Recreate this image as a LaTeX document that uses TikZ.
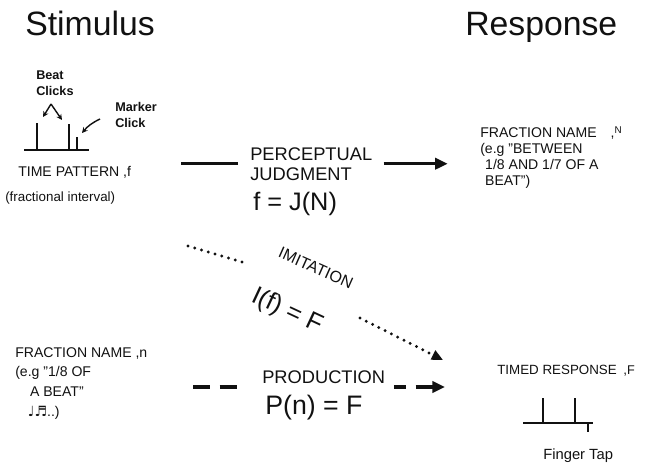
\documentclass[tikz,border=0pt]{standalone}
\usepackage{fontspec}
\setmainfont{Liberation Sans}
\newfontfamily\notefont{DejaVu Sans}
\usepackage{xcolor}
\definecolor{Ink}{HTML}{111111}
\usetikzlibrary{arrows.meta, positioning}
\tikzset{
  base text/.style={inner sep=0pt, align=left, text=Ink},
  title text/.style={base text, font=\fontsize{24}{28}\selectfont},
  caps text/.style={base text, font=\fontsize{10}{#1}\selectfont},
  hand text/.style={base text, font=\bfseries\fontsize{9}{#1}\selectfont},
  relation text/.style={base text, font=\fontsize{13}{14.2}\selectfont},
  formula text/.style={base text, font=\fontsize{#1}{#1}\selectfont},
  pulse/.style={line width=1.3pt, draw=Ink},
  pointer/.style={-{Stealth[length=4pt, width=4pt]}, line width=1pt, draw=Ink},
  arrow/.style={-{Triangle[length=9pt, width=8pt]}, line width=2.2pt, draw=Ink},
  link/.style={line width=2.2pt, draw=Ink},
  dash link/.style={link, dash pattern=on 12pt off 7pt},
  dash arrow/.style={arrow, dash pattern=on 8.5pt off 7pt on 40pt off 0pt},
  dot link/.style={line width=2.3pt, draw=Ink, line cap=round, dash pattern=on 0pt off 5pt},
  dot arrow/.style={dot link, -{Triangle[length=8pt, width=7pt]}},
}

\begin{document}
\begin{tikzpicture}[x=0.025cm, y=-0.025cm]
  \useasboundingbox (0,0) rectangle (657,467);

  \node[title text, anchor=base west] (stimtitle) at (25,35) {Stimulus};
  \node[title text, anchor=base west] (resptitle) at (465,35) {Response};

  % time pattern with clicks
  \node[hand text=10.7pt, anchor=north west] (beat) at (36,71) {Beat\\Clicks};
  \node[hand text=11.4pt, anchor=north west] (marker) at (115,102) {Marker\\Click};
  \draw[pulse] (24,150) -- (89,150);
  \foreach \x/\h in {37/123, 69/124, 77/137}
    \draw[pulse] (\x,150) -- (\x,\h);
  \draw[pointer] (51,104) -- (43,117);
  \draw[pointer] (51,104) -- (62,120);
  \draw[pointer] (100,119) to[bend right=12] (82,133);

  \node[caps text=12pt, anchor=base west] (tpat) at (18,176) {TIME PATTERN ,f};
  \node[base text, font=\fontsize{9.5}{11}\selectfont, anchor=base west] (fracint) at (5,201) {(fractional interval)};

  \node[relation text, anchor=north west] (percept) at (250,147) {PERCEPTUAL\\JUDGMENT};
  \node[formula text=18, anchor=base west] (judge) at (253,210) {f = J(N)};

  \node[caps text=11.5pt, anchor=north west] (fracN) at (480,126)
    {FRACTION NAME\quad,\raisebox{3pt}{\scriptsize N}\\(e.g "BETWEEN\\\hspace*{3.5pt}1/8 AND 1/7 OF A\\\hspace*{3.5pt}BEAT")};

  \draw[link, shorten <=8.5pt, shorten >=35pt] (percept.west) -- (percept.west -| tpat.east);
  \draw[arrow, shorten <=8pt, shorten >=23pt] (percept.east) -- (percept.east -| fracN.west);

  % imitation
  \node[base text, font=\fontsize{11.5}{11.5}\selectfont, rotate=-24] (imit) at (316,268) {IMITATION};
  \node[formula text=18, rotate=-25] (imitf) at (287,311) {I(f) = F};
  \coordinate (imit-a) at (188,246);
  \coordinate (imit-b) at (242,262);
  \coordinate (imit-c) at (360,318);
  \coordinate (imit-d) at (443,360);
  \draw[dot link] (imit-a) -- (imit-b);
  \draw[dot arrow] (imit-c) -- (imit-d);

  % production
  \node[caps text=14pt, anchor=north west] (fracn) at (15,347)
    {FRACTION NAME ,n\\(e.g "1/8 OF\\\hspace*{10.5pt}A BEAT"\\\hspace*{9pt}{\notefont ♩♬}..)};
  \node[relation text, anchor=base west] (product) at (262,383) {PRODUCTION};
  \node[formula text=19, anchor=base west] (prodf) at (265,414) {P(n) = F};

  \node[base text, font=\fontsize{9.5}{11}\selectfont, anchor=base west] (timed) at (497,374)
    {TIMED RESPONSE\enspace,{\small F}};

  \coordinate (prod-in) at (193,387);
  \draw[dash link, shorten >=17.8pt] (prod-in) -- (product.west |- prod-in);
  \draw[dash arrow, shorten <=6pt] (product.east |- prod-in) -- (445,387);

  % finger tap
  \draw[pulse] (523,423) -- (593,423);
  \foreach \x in {543, 575}
    \draw[pulse] (\x,423) -- (\x,398);
  \draw[pulse] (588,423) -- (588,432);
  \node[base text, font=\fontsize{10.5}{12}\selectfont, anchor=base west] (tap) at (543,459) {Finger Tap};
\end{tikzpicture}
\end{document}
